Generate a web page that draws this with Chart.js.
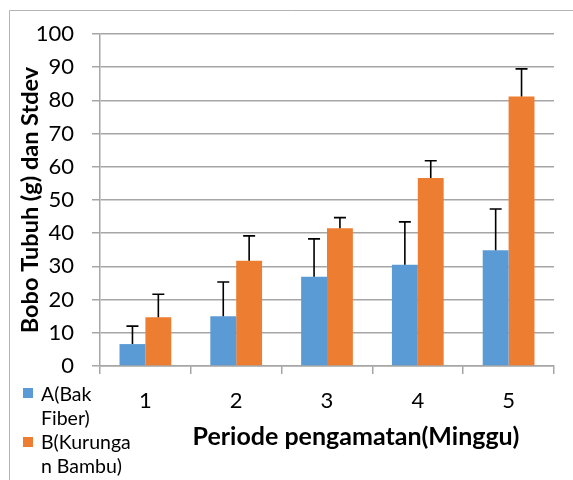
<!DOCTYPE html>
<html>
<head>
<meta charset="utf-8">
<script src="https://cdn.jsdelivr.net/npm/chart.js@4"></script>
<style>
  body { margin: 0; background: #fff; }
  canvas { display: block; }
</style>
</head>
<body>
<canvas id="c" width="573" height="480"></canvas>
<script>
const periods = ['1', '2', '3', '4', '5'];
const meanA = [6.6, 15.0, 26.9, 30.5, 34.9];
const sdA = [5.4, 10.3, 11.4, 12.9, 12.4];
const meanB = [14.7, 31.7, 41.5, 56.6, 81.2];
const sdB = [6.9, 7.5, 3.2, 5.2, 8.3];
const legendA = ['A(Bak', 'Fiber)'];
const legendB = ['B(Kurunga', 'n Bambu)'];

const blue = '#5B9BD5';
const orange = '#ED7D31';
const gridGray = '#A6A6A6';

// upper error bars
const errorBars = {
    id: 'errorBars',
    afterDatasetsDraw(chart) {
        const ctx = chart.ctx;
        const y = chart.scales.y;
        ctx.save();
        ctx.strokeStyle = '#000';
        ctx.lineWidth = 1.6;
        chart.data.datasets.forEach((ds, i) => {
            chart.getDatasetMeta(i).data.forEach((bar, j) => {
                const top = y.getPixelForValue(ds.data[j] + ds.sd[j]);
                ctx.beginPath();
                ctx.moveTo(bar.x, bar.y);
                ctx.lineTo(bar.x, top);
                ctx.moveTo(bar.x - 6, top);
                ctx.lineTo(bar.x + 6, top);
                ctx.stroke();
            });
        });
        ctx.restore();
    }
};

// frame, x title and the wrapped legend
const extras = {
    id: 'extras',
    afterDraw(chart) {
        const ctx = chart.ctx;
        ctx.save();
        ctx.strokeStyle = '#B3B3B3';
        ctx.lineWidth = 1;
        ctx.beginPath();
        ctx.moveTo(9.5, 480);
        ctx.lineTo(9.5, 10.5);
        ctx.lineTo(573, 10.5);
        ctx.stroke();

        ctx.fillStyle = '#000';
        ctx.font = 'bold 25px Lato';
        ctx.textAlign = 'center';
        ctx.textBaseline = 'alphabetic';
        ctx.fillText('Periode pengamatan(Minggu)', 356, 445);

        ctx.textAlign = 'left';
        ctx.font = '19.5px Lato';
        ctx.fillStyle = blue;
        ctx.fillRect(23, 388, 10, 10);
        ctx.fillStyle = orange;
        ctx.fillRect(23, 437, 10, 10);
        ctx.fillStyle = '#000';
        legendA.forEach((t, k) => ctx.fillText(t, 41, 401 + k * 24));
        legendB.forEach((t, k) => ctx.fillText(t, 41, 449 + k * 24));
        ctx.restore();
    }
};

new Chart(document.getElementById('c'), {
    type: 'bar',
    data: {
        labels: periods,
        datasets: [
            { label: 'A(Bak Fiber)', data: meanA, sd: sdA, backgroundColor: blue },
            { label: 'B(Kurungan Bambu)', data: meanB, sd: sdB, backgroundColor: orange }
        ]
    },
    options: {
        responsive: false,
        animation: false,
        layout: { padding: { top: 34, right: 19, left: 0, bottom: 0 } },
        datasets: { bar: { categoryPercentage: 0.57, barPercentage: 1 } },
        scales: {
            x: {
                afterFit: s => { s.height = 114; },
                grid: { offset: true, drawOnChartArea: false, tickLength: 8, color: gridGray, lineWidth: 1.5 },
                border: { color: gridGray, width: 1.5 },
                ticks: { color: '#000', padding: 14, font: { family: 'Lato', size: 22 } }
            },
            y: {
                min: 0,
                max: 100,
                afterFit: s => { s.width = 100; },
                grid: { tickLength: 8, color: gridGray, lineWidth: 1.5 },
                border: { color: gridGray, width: 1.5 },
                ticks: { stepSize: 10, color: '#000', padding: 18, font: { family: 'Lato', size: 22 } },
                title: {
                    display: true,
                    text: 'Bobo Tubuh (g) dan Stdev',
                    color: '#000',
                    padding: { top: 16, bottom: 0 },
                    font: { family: 'Lato', size: 23.5, weight: 'bold' }
                }
            }
        },
        plugins: {
            legend: { display: false },
            tooltip: { enabled: false }
        }
    },
    plugins: [errorBars, extras]
});
</script>
</body>
</html>
